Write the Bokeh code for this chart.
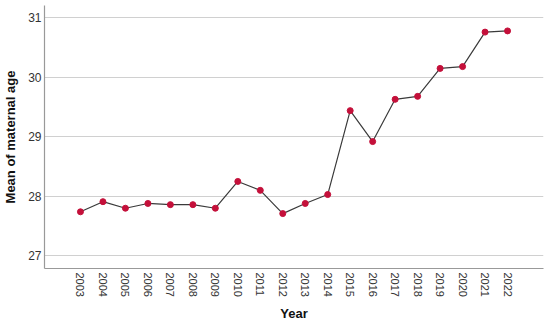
import math
from bokeh.plotting import figure
from bokeh.models import FixedTicker, ColumnDataSource
from bokeh.embed import file_html
from bokeh.resources import INLINE

years = list(range(2003, 2023))
mean_age = [27.74, 27.91, 27.80, 27.88, 27.86, 27.86, 27.80, 28.25, 28.10, 27.71,
            27.88, 28.03, 29.44, 28.92, 29.63, 29.68, 30.15, 30.18, 30.76, 30.78]
y_ticks = [27, 28, 29, 30, 31]

src = ColumnDataSource(dict(year=years, age=mean_age))

p = figure(width=546, height=318, output_backend="svg", toolbar_location=None,
           x_range=(2001.4, 2023.6), y_range=(26.787, 31.207),
           min_border_left=44, min_border_right=3, min_border_top=5, min_border_bottom=50,
           frame_width=499, frame_height=263)
p.outline_line_color = None
p.background_fill_color = "white"

p.line("year", "age", source=src, line_color="#3a3a3a", line_width=1.2)
p.scatter("year", "age", source=src, size=6, fill_color="#c4103a", line_color="#c4103a")

p.xaxis.ticker = FixedTicker(ticks=years)
p.yaxis.ticker = FixedTicker(ticks=y_ticks)
p.xaxis.major_label_orientation = -math.pi / 2
p.xgrid.grid_line_color = None
p.ygrid.grid_line_color = "#d0d0d0"
p.ygrid.grid_line_width = 1.2

for ax in (p.xaxis, p.yaxis):
    ax.axis_line_color = "#999999"
    ax.axis_line_width = 1.2
    ax.major_tick_line_color = None
    ax.minor_tick_line_color = None
    ax.major_tick_out = 0
    ax.major_tick_in = 0
    ax.minor_tick_out = 0
    ax.major_label_text_font = "Liberation Sans"
    ax.major_label_text_font_size = "11px"
    ax.major_label_text_color = "#333333"
    ax.axis_label_text_font = "Liberation Sans"
    ax.axis_label_text_font_size = "13px"
    ax.axis_label_text_font_style = "bold"
    ax.axis_label_text_color = "#111111"

p.yaxis.major_label_text_font_size = "12px"
p.xaxis.axis_label = "Year"
p.yaxis.axis_label = "Mean of maternal age"
p.xaxis.major_label_standoff = 4
p.yaxis.major_label_standoff = 3
p.xaxis.axis_label_standoff = 6
p.yaxis.axis_label_standoff = 7

open("out.html", "w").write(file_html(p, INLINE))
